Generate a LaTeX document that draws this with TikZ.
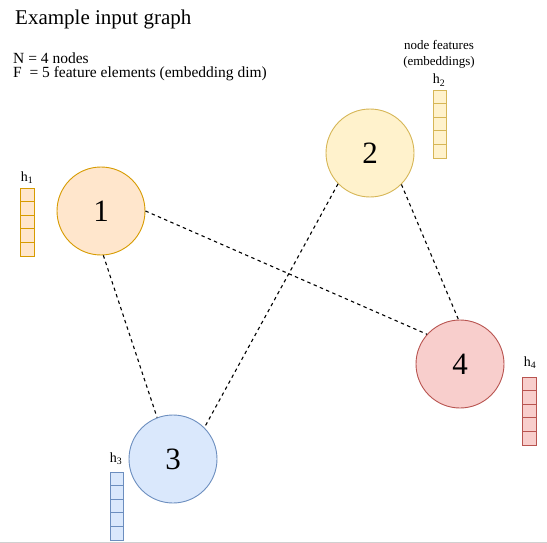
\documentclass[tikz,border=0pt]{standalone}
\usepackage{fontspec}
\setmainfont{Liberation Serif}
\begin{document}
\begin{tikzpicture}[x=1pt,y=-1pt,
  gnode/.style={circle,draw,line width=0.9pt,minimum size=88pt,inner sep=0pt,font=\fontsize{31}{34}\selectfont},
  edge/.style={draw=black,line width=1.1pt,dash pattern=on 3.4pt off 3.4pt},
  lab/.style={inner sep=0pt,font=\fontsize{14}{16}\selectfont},
  desc/.style={inner sep=0pt,anchor=north west,align=left,font=\fontsize{15.5}{14.4}\selectfont},
  small/.style={inner sep=0pt,anchor=base,font=\fontsize{13}{15}\selectfont},
  cell/.style={draw,line width=0.9pt,minimum width=13.5pt,minimum height=13.6pt,inner sep=0pt}]
\definecolor{oFill}{HTML}{FFE6CC}\definecolor{oLine}{HTML}{D79B00}
\definecolor{yFill}{HTML}{FFF2CC}\definecolor{yLine}{HTML}{D6B656}
\definecolor{bFill}{HTML}{DAE8FC}\definecolor{bLine}{HTML}{6C8EBF}
\definecolor{rFill}{HTML}{F8CECC}\definecolor{rLine}{HTML}{B85450}
\useasboundingbox (0,0) rectangle (547,543);
\fill[fill={rgb,255:red,208;green,208;blue,208}] (0,541.5) rectangle (547,543);

% title and description
\node[anchor=base west,inner sep=0pt,font=\fontsize{21}{24}\selectfont] (title) at (15,25) {Example input graph};
\node[desc] (desc) at (13,52.6) {N = 4 nodes\\F \ = 5 feature elements (embedding dim)};

% graph nodes
\node[gnode,fill=oFill,draw=oLine] (n1) at (101,211) {1};
\node[gnode,fill=yFill,draw=yLine] (n2) at (370,153) {2};
\node[gnode,fill=bFill,draw=bLine] (n3) at (173,459) {3};
\node[gnode,fill=rFill,draw=rLine] (n4) at (460,364) {4};

% edges
\draw[edge] (n1.0) -- (n4.138);
\draw[edge] (n1.-87) -- (n3.111);
\draw[edge] (n2.224) -- (n3.45);
\draw[edge] (n2.-45) -- (n4.92);

% feature vectors
\foreach \k/\x/\y/\f/\l in {1/27.5/188/oFill/oLine, 2/440/90/yFill/yLine, 3/117/472/bFill/bLine, 4/529.5/377/rFill/rLine}{
  \foreach \i in {0,...,4}{
    \node[cell,fill=\f,draw=\l] (h\k c\i) at (\x,\y+6.8+13.6*\i) {};
  }
}
\node[lab,anchor=base] (h1lab) at (27,181) {h\textsubscript{1}};
\node[lab,anchor=base] (h2lab) at (439,84) {h\textsubscript{2}};
\node[lab,anchor=base] (h3lab) at (116,462) {h\textsubscript{3}};
\node[lab,anchor=base] (h4lab) at (530,366) {h\textsubscript{4}};
\node[small] (nf1) at (439,50) {node features};
\node[small] (nf2) at (439,66) {(embeddings)};
\end{tikzpicture}
\end{document}
